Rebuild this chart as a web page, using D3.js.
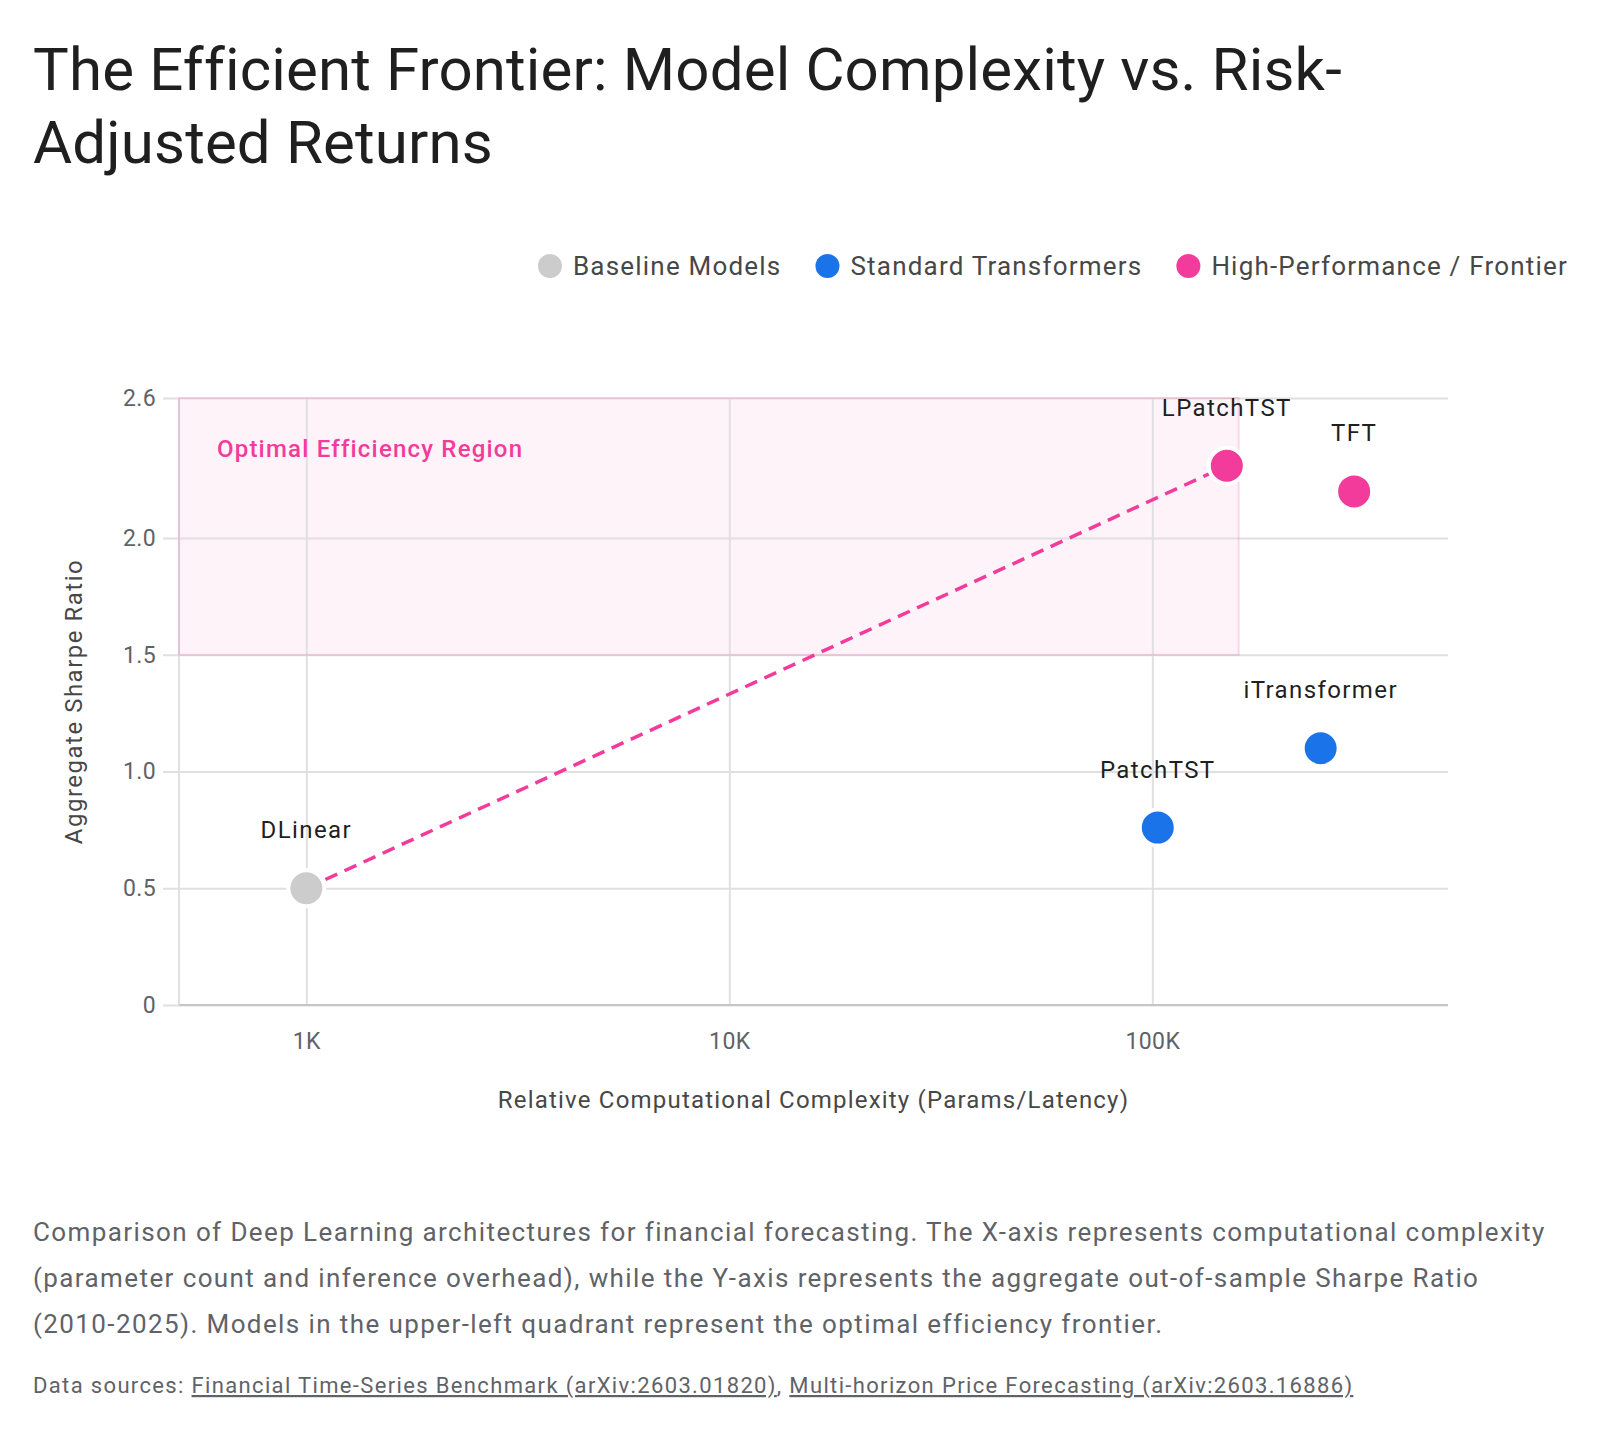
<!DOCTYPE html>
<html>
<head>
<meta charset="utf-8">
<script src="https://cdn.jsdelivr.net/npm/d3@7"></script>
<style>
  body { margin: 0; background: #fff; }
  svg { display: block; font-family: Roboto, "Noto Sans", sans-serif; }
</style>
</head>
<body>
<div id="chart"></div>
<script>
// data
const models = ["DLinear", "PatchTST", "iTransformer", "LPatchTST", "TFT"]
const complexity = [1000, 103000, 250000, 150000, 300000]
const sharpe = [0.5, 0.76, 1.10, 2.31, 2.20]
const modelGroup = ["Baseline Models", "Standard Transformers", "Standard Transformers",
  "High-Performance / Frontier", "High-Performance / Frontier"]

const groupNames = ["Baseline Models", "Standard Transformers", "High-Performance / Frontier"]
const groupColors = ["#cccccc", "#1a73e8", "#f23b9b"]

const frontierModels = ["DLinear", "LPatchTST"]

const xTicks = [1000, 10000, 100000]
const xTickLabels = ["1K", "10K", "100K"]
const yTicks = [0, 0.5, 1.0, 1.5, 2.0, 2.6]
const yTickLabels = ["0", "0.5", "1.0", "1.5", "2.0", "2.6"]

const regionX = [500, 160000]
const regionY = [1.5, 2.6]
const regionLabel = "Optimal Efficiency Region"

const titleLines = ["The Efficient Frontier: Model Complexity vs. Risk-", "Adjusted Returns"]
const captionLines = [
  "Comparison of Deep Learning architectures for financial forecasting. The X-axis represents computational complexity",
  "(parameter count and inference overhead), while the Y-axis represents the aggregate out-of-sample Sharpe Ratio",
  "(2010-2025). Models in the upper-left quadrant represent the optimal efficiency frontier."
]
const sources = ["Financial Time-Series Benchmark (arXiv:2603.01820)", "Multi-horizon Price Forecasting (arXiv:2603.16886)"]

const W = 1600, H = 1434
const margin = {top: 398, right: 152, bottom: 429, left: 179}
const width = W - margin.left - margin.right
const height = H - margin.top - margin.bottom

const svg = d3.select("#chart").append("svg")
  .attr("width", W)
  .attr("height", H)

svg.append("rect").attr("width", W).attr("height", H).attr("fill", "#fff")

// title
svg.append("g").selectAll("text")
  .data(titleLines)
  .join("text")
    .attr("x", 33)
    .attr("y", (d, i) => 90 + i * 73)
    .attr("font-size", 60)
    .attr("letter-spacing", 0.15)
    .attr("fill", "#1f1f1f")
    .text(d => d)

// legend, right aligned
const color = d3.scaleOrdinal().domain(groupNames).range(groupColors)
const legend = svg.append("g").attr("transform", "translate(0,266)")
const items = legend.selectAll("g")
  .data(groupNames)
  .join("g")
items.append("circle").attr("r", 12).attr("fill", d => color(d))
items.append("text")
  .attr("x", 23)
  .attr("dy", "0.35em")
  .attr("font-size", 26)
  .attr("letter-spacing", 1.2)
  .attr("fill", "#474747")
  .text(d => d)
let cursor = 1568
const nodes = items.nodes().reverse()
nodes.forEach(n => {
  const tw = d3.select(n).select("text").node().getComputedTextLength()
  const cx = cursor - tw - 23
  d3.select(n).attr("transform", `translate(${cx},0)`)
  cursor = cx - 12 - 34
})

const g = svg.append("g")
  .attr("transform", `translate(${margin.left},${margin.top})`)

const x = d3.scaleLog().domain([500, 500000]).range([0, width])
const y = d3.scaleLinear().domain([0, 2.6]).range([height, 0])

// optimal region
g.append("rect")
  .attr("x", x(regionX[0]))
  .attr("y", y(regionY[1]))
  .attr("width", x(regionX[1]) - x(regionX[0]))
  .attr("height", y(regionY[0]) - y(regionY[1]))
  .attr("fill", "#f23b9b")
  .attr("fill-opacity", 0.06)

// grid
g.append("g")
  .call(d3.axisLeft(y).tickValues(yTicks).tickSize(-width).tickFormat((d, i) => yTickLabels[i]))
  .call(a => a.select(".domain").remove())
  .call(a => a.selectAll(".tick line").attr("stroke", "#e0e0e0").attr("stroke-width", 2).attr("x1", -16))
  .call(a => a.selectAll(".tick text").attr("x", -23).attr("font-size", 23).attr("letter-spacing", 0.4)
    .attr("fill", "#5f6368").attr("font-family", "Roboto, sans-serif"))

g.append("g")
  .attr("transform", `translate(0,${height})`)
  .call(d3.axisBottom(x).tickValues(xTicks).tickSize(-height).tickFormat((d, i) => xTickLabels[i]))
  .call(a => a.select(".domain").remove())
  .call(a => a.selectAll(".tick line").attr("stroke", "#e0e0e0").attr("stroke-width", 2))
  .call(a => a.selectAll(".tick text").attr("y", 44).attr("dy", 0).attr("font-size", 23).attr("letter-spacing", 0.4)
    .attr("fill", "#5f6368").attr("font-family", "Roboto, sans-serif"))

// axis lines
g.append("line").attr("y1", 0).attr("y2", height).attr("stroke", "#e0e0e0").attr("stroke-width", 2)
g.append("line").attr("x1", 0).attr("x2", width).attr("y1", height).attr("y2", height)
  .attr("stroke", "#c6c6c6").attr("stroke-width", 2)

// region border over the grid
g.append("rect")
  .attr("x", x(regionX[0]))
  .attr("y", y(regionY[1]))
  .attr("width", x(regionX[1]) - x(regionX[0]))
  .attr("height", y(regionY[0]) - y(regionY[1]))
  .attr("fill", "none")
  .attr("stroke", "#f23b9b")
  .attr("stroke-opacity", 0.18)
  .attr("stroke-width", 2)

g.append("text")
  .attr("x", x(regionX[0]) + 38)
  .attr("y", y(regionY[1]) + 59)
  .attr("font-size", 24)
  .attr("font-weight", 500)
  .attr("letter-spacing", 1.2)
  .attr("fill", "#f23b9b")
  .text(regionLabel)

const data = models.map((m, i) => ({name: m, x: complexity[i], y: sharpe[i], group: modelGroup[i]}))

// frontier line
const fr = data.filter(d => frontierModels.includes(d.name))
g.append("path")
  .datum(fr)
  .attr("fill", "none")
  .attr("stroke", "#f23b9b")
  .attr("stroke-width", 3.5)
  .attr("stroke-dasharray", "13 8")
  .attr("d", d3.line().x(d => x(d.x)).y(d => y(d.y)))

// points
g.selectAll(".pt")
  .data(data)
  .join("circle")
    .attr("class", "pt")
    .attr("cx", d => x(d.x))
    .attr("cy", d => y(d.y))
    .attr("r", 18)
    .attr("fill", d => color(d.group))
    .attr("stroke", "#fff")
    .attr("stroke-width", 4)

g.selectAll(".lbl")
  .data(data)
  .join("text")
    .attr("class", "lbl")
    .attr("x", d => x(d.x))
    .attr("y", d => y(d.y) - 50)
    .attr("text-anchor", "middle")
    .attr("font-size", 24)
    .attr("letter-spacing", 1.4)
    .attr("fill", "#1f1f1f")
    .text(d => d.name)

// axis titles
svg.append("text")
  .attr("x", margin.left + width / 2)
  .attr("y", 1108)
  .attr("text-anchor", "middle")
  .attr("font-size", 24)
  .attr("letter-spacing", 1.2)
  .attr("fill", "#474747")
  .text("Relative Computational Complexity (Params/Latency)")

svg.append("text")
  .attr("transform", `translate(82,${margin.top + height / 2}) rotate(-90)`)
  .attr("text-anchor", "middle")
  .attr("font-size", 24)
  .attr("letter-spacing", 1.5)
  .attr("fill", "#474747")
  .text("Aggregate Sharpe Ratio")

// caption
svg.append("g").selectAll("text")
  .data(captionLines)
  .join("text")
    .attr("x", 33)
    .attr("y", (d, i) => 1241 + i * 46)
    .attr("font-size", 26)
    .attr("letter-spacing", 1.4)
    .attr("fill", "#5f6368")
    .text(d => d)

// sources
const src = svg.append("text")
  .attr("x", 33)
  .attr("y", 1393)
  .attr("font-size", 22)
  .attr("letter-spacing", 1.35)
  .attr("fill", "#5f6368")
src.append("tspan").text("Data sources: ")
src.append("tspan").attr("text-decoration", "underline").text(sources[0])
src.append("tspan").text(", ")
src.append("tspan").attr("text-decoration", "underline").text(sources[1])
</script>
</body>
</html>
